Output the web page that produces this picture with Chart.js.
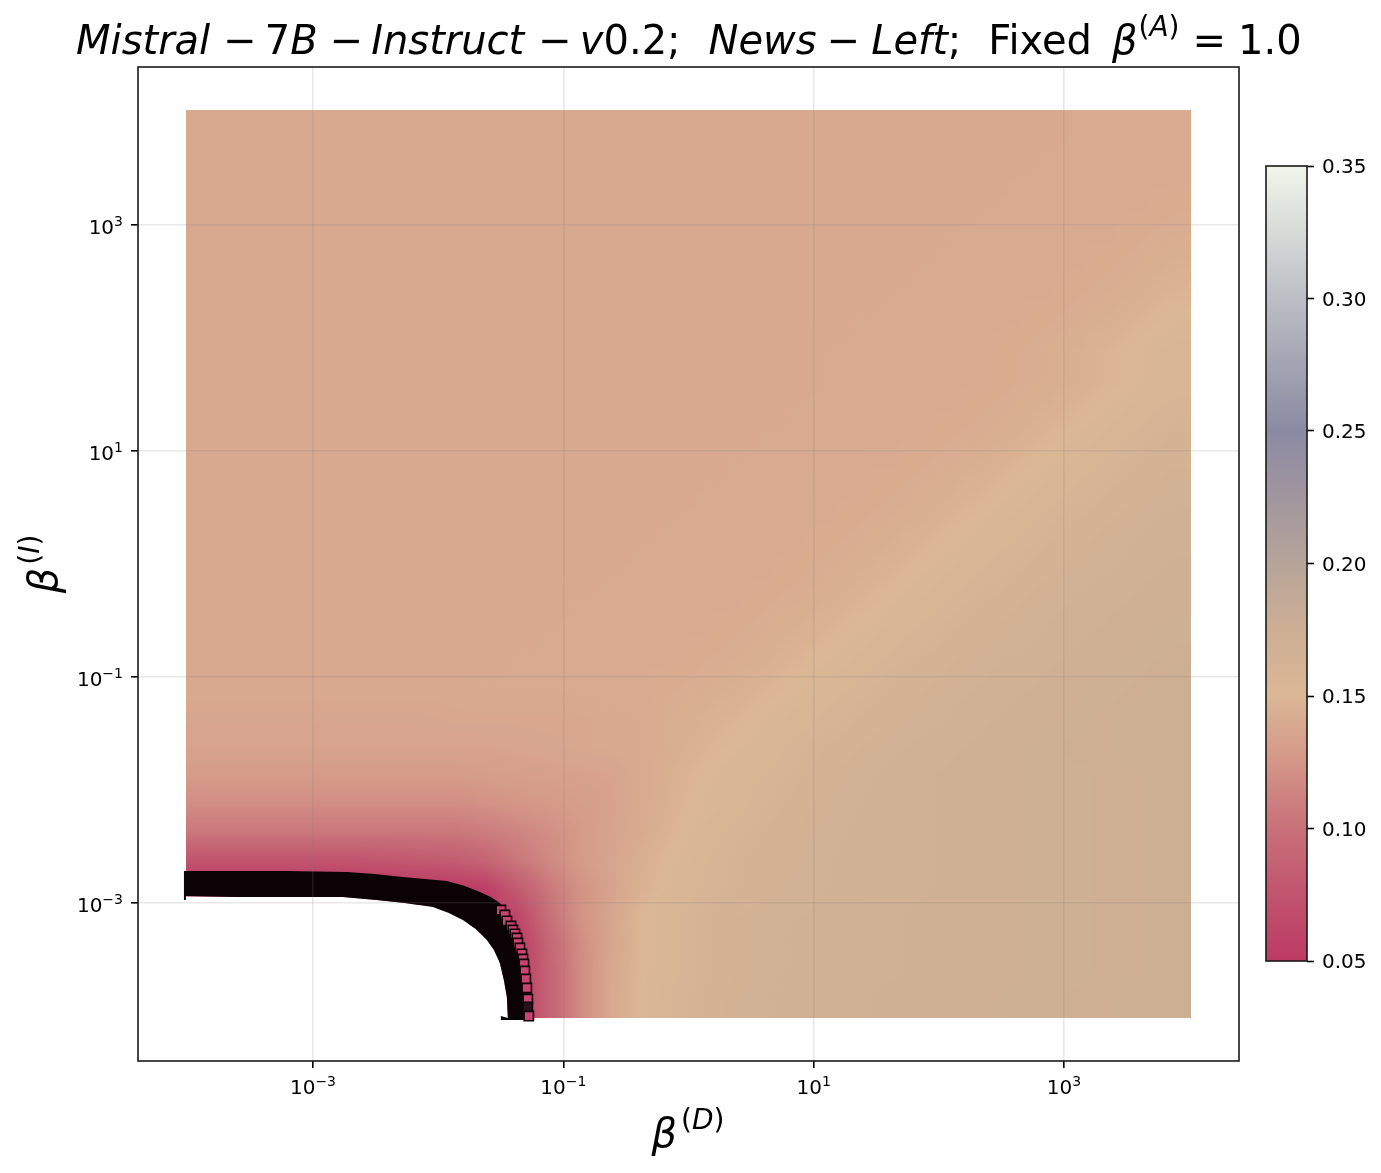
<!DOCTYPE html>
<html>
<head>
<meta charset="utf-8">
<title>Mistral-7B-Instruct-v0.2 heatmap</title>
<script src="https://cdn.jsdelivr.net/npm/chart.js@4/dist/chart.umd.min.js"></script>
<style>
  body { margin: 0; background: #fff; }
  canvas { position: absolute; display: block; }
  #main { left: 0; top: 0; }
  #colorbar { left: 1260px; top: 146px; }
</style>
</head>
<body>
<canvas id="main" width="1381" height="1173"></canvas>
<canvas id="colorbar" width="121" height="835"></canvas>
<script>
// grid exponents (log10), one column per betaD, one row per betaI
const betaDExp = [-3.875,-3.625,-3.375,-3.125,-2.875,-2.625,-2.375,-2.125,-1.875,-1.625,-1.375,-1.125,-0.875,-0.625,-0.375,-0.125,0.125,0.375,0.625,0.875,1.125,1.375,1.625,1.875,2.125,2.375,2.625,2.875,3.125,3.375,3.625,3.875];
const betaIExp = [-3.875,-3.625,-3.375,-3.125,-2.875,-2.625,-2.375,-2.125,-1.875,-1.625,-1.375,-1.125,-0.875,-0.625,-0.375,-0.125,0.125,0.375,0.625,0.875,1.125,1.375,1.625,1.875,2.125,2.375,2.625,2.875,3.125,3.375,3.625,3.875];

// values, first row is the lowest betaI. null = no data (white)
const scores = [
  [null,null,null,null,null,null,null,null,null,null,.05,.088,.117,.138,.151,.158,.162,.165,.167,.169,.170,.170,.171,.171,.172,.172,.173,.173,.174,.174,.175,.175],
  [null,null,null,null,null,null,null,null,null,null,.05,.088,.117,.138,.150,.157,.161,.164,.166,.168,.169,.170,.170,.171,.171,.172,.172,.173,.173,.174,.174,.175],
  [null,null,null,null,null,null,null,null,null,null,.05,.090,.118,.136,.149,.157,.161,.164,.166,.168,.169,.170,.170,.171,.171,.172,.172,.173,.173,.174,.174,.175],
  [null,null,null,null,null,null,null,null,null,.05,.06,.098,.122,.136,.150,.157,.161,.164,.166,.167,.168,.169,.170,.171,.171,.172,.172,.173,.173,.174,.174,.175],
  [.05,.05,.05,.05,.05,.05,.05,.05,.05,.055,.080,.105,.122,.135,.146,.153,.158,.161,.164,.166,.167,.168,.169,.170,.171,.172,.172,.173,.173,.174,.174,.175],
  [.075,.075,.075,.075,.075,.075,.077,.080,.083,.090,.104,.116,.128,.136,.144,.151,.157,.161,.163,.165,.167,.168,.169,.170,.171,.172,.172,.173,.173,.174,.174,.175],
  [.105,.105,.105,.105,.105,.105,.105,.105,.105,.108,.113,.120,.128,.135,.141,.148,.155,.159,.162,.164,.166,.168,.169,.170,.171,.172,.172,.173,.173,.174,.174,.175],
  [.119,.119,.119,.119,.119,.119,.119,.119,.119,.122,.125,.128,.131,.134,.140,.146,.152,.156,.160,.163,.165,.167,.169,.170,.171,.172,.172,.173,.173,.174,.174,.175],
  [.129,.129,.129,.129,.129,.129,.129,.129,.129,.131,.132,.133,.134,.135,.140,.145,.150,.155,.158,.161,.164,.166,.168,.170,.171,.172,.172,.173,.173,.174,.174,.175],
  [.135,.135,.135,.135,.135,.135,.135,.135,.135,.135,.136,.137,.138,.139,.140,.143,.147,.151,.155,.159,.162,.164,.166,.168,.170,.171,.172,.173,.174,.174,.175,.175],
  [.137,.137,.137,.137,.137,.137,.137,.137,.138,.138,.138,.138,.138,.139,.140,.143,.145,.148,.152,.156,.159,.162,.164,.166,.168,.170,.171,.172,.173,.174,.175,.175],
  [.139,.139,.139,.139,.139,.139,.139,.139,.139,.140,.140,.140,.140,.141,.141,.142,.143,.145,.148,.152,.156,.159,.162,.164,.166,.168,.170,.171,.172,.173,.174,.175],
  [.139,.139,.139,.139,.139,.139,.139,.139,.139,.139,.140,.140,.140,.140,.141,.141,.142,.143,.145,.148,.152,.156,.159,.162,.164,.166,.168,.170,.171,.172,.173,.174],
  [.139,.139,.139,.139,.139,.139,.139,.139,.139,.139,.139,.140,.140,.140,.140,.141,.141,.142,.143,.145,.148,.152,.156,.159,.162,.164,.166,.168,.170,.171,.172,.173],
  [.139,.139,.139,.139,.139,.139,.139,.139,.139,.139,.139,.139,.140,.140,.140,.140,.141,.141,.142,.143,.145,.148,.152,.156,.159,.162,.164,.166,.168,.170,.171,.172],
  [.139,.139,.139,.139,.139,.139,.139,.139,.139,.139,.139,.139,.139,.140,.140,.140,.140,.141,.141,.142,.143,.145,.148,.152,.156,.159,.162,.164,.166,.168,.170,.171],
  [.139,.139,.139,.139,.139,.139,.139,.139,.139,.139,.139,.139,.139,.139,.140,.140,.140,.140,.141,.141,.142,.143,.145,.148,.152,.156,.159,.162,.164,.166,.168,.170],
  [.139,.139,.139,.139,.139,.139,.139,.139,.139,.139,.139,.139,.139,.139,.139,.140,.140,.140,.140,.141,.141,.142,.143,.145,.148,.152,.156,.159,.162,.164,.166,.168],
  [.139,.139,.139,.139,.139,.139,.139,.139,.139,.139,.139,.139,.139,.139,.139,.139,.140,.140,.140,.140,.141,.141,.142,.143,.145,.148,.152,.156,.159,.162,.164,.166],
  [.139,.139,.139,.139,.139,.139,.139,.139,.139,.139,.139,.139,.139,.139,.139,.139,.139,.140,.140,.140,.140,.141,.141,.142,.143,.145,.148,.152,.156,.159,.162,.164],
  [.139,.139,.139,.139,.139,.139,.139,.139,.139,.139,.139,.139,.139,.139,.139,.139,.139,.139,.140,.140,.140,.140,.141,.141,.142,.143,.145,.148,.152,.156,.159,.162],
  [.139,.139,.139,.139,.139,.139,.139,.139,.139,.139,.139,.139,.139,.139,.139,.139,.139,.139,.139,.140,.140,.140,.140,.141,.141,.142,.143,.145,.148,.152,.156,.159],
  [.139,.139,.139,.139,.139,.139,.139,.139,.139,.139,.139,.139,.139,.139,.139,.139,.139,.139,.139,.139,.140,.140,.140,.140,.141,.141,.142,.143,.145,.148,.152,.156],
  [.139,.139,.139,.139,.139,.139,.139,.139,.139,.139,.139,.139,.139,.139,.139,.139,.139,.139,.139,.139,.140,.140,.140,.140,.141,.141,.142,.143,.145,.148,.152,.156],
  [.139,.139,.139,.139,.139,.139,.139,.139,.139,.139,.139,.139,.139,.139,.139,.139,.139,.139,.139,.139,.139,.140,.140,.140,.140,.141,.141,.142,.143,.145,.148,.152],
  [.139,.139,.139,.139,.139,.139,.139,.139,.139,.139,.139,.139,.139,.139,.139,.139,.139,.139,.139,.139,.139,.139,.140,.140,.140,.140,.141,.141,.142,.143,.145,.148],
  [.139,.139,.139,.139,.139,.139,.139,.139,.139,.139,.139,.139,.139,.139,.139,.139,.139,.139,.139,.139,.139,.139,.139,.140,.140,.140,.140,.141,.141,.142,.143,.145],
  [.139,.139,.139,.139,.139,.139,.139,.139,.139,.139,.139,.139,.139,.139,.139,.139,.139,.139,.139,.139,.139,.139,.139,.139,.140,.140,.140,.140,.141,.141,.142,.143],
  [.139,.139,.139,.139,.139,.139,.139,.139,.139,.139,.139,.139,.139,.139,.139,.139,.139,.139,.139,.139,.139,.139,.139,.139,.139,.140,.140,.140,.140,.141,.141,.142],
  [.139,.139,.139,.139,.139,.139,.139,.139,.139,.139,.139,.139,.139,.139,.139,.139,.139,.139,.139,.139,.139,.139,.139,.139,.139,.139,.140,.140,.140,.140,.141,.141],
  [.139,.139,.139,.139,.139,.139,.139,.139,.139,.139,.139,.139,.139,.139,.139,.139,.139,.139,.139,.139,.139,.139,.139,.139,.139,.139,.139,.140,.140,.140,.140,.141],
  [.139,.139,.139,.139,.139,.139,.139,.139,.139,.139,.139,.139,.139,.139,.139,.139,.139,.139,.139,.139,.139,.139,.139,.139,.139,.139,.139,.139,.140,.140,.140,.140]
];

// black edged markers that form the thick band (outline, exponents)
const bandD = [-4.031,-3.208,-2.729,-2.506,-2.282,-2.106,-1.931,-1.787,-1.667,-1.579,-1.507,-1.427,-1.371,-1.331,-1.308,-1.284,-1.268,-1.252,-1.244,-1.499,-1.499,-1.443,-1.451,-1.475,-1.507,-1.555,-1.611,-1.699,-1.803,-1.915,-2.042,-2.266,-2.490,-2.761,-3.608,-4.015,-4.015,-4.031];
const bandI = [-2.717,-2.717,-2.726,-2.743,-2.770,-2.788,-2.805,-2.850,-2.903,-2.947,-3.000,-3.115,-3.239,-3.372,-3.504,-3.655,-3.796,-3.929,-4.035,-4.035,-4.000,-4.018,-3.832,-3.681,-3.531,-3.416,-3.327,-3.230,-3.150,-3.088,-3.035,-3.000,-2.973,-2.947,-2.947,-2.938,-2.973,-2.973];

// nothing was measured under the band
const emptyD = [-1.443,-1.451,-1.475,-1.507,-1.555,-1.611,-1.699,-1.803,-1.915,-2.042,-2.266,-2.490,-2.761,-3.608,-4.398,-4.398,-1.443];
const emptyI = [-4.018,-3.832,-3.681,-3.531,-3.416,-3.327,-3.230,-3.150,-3.088,-3.035,-3.000,-2.973,-2.947,-2.947,-2.938,-4.398,-4.398];

// single markers still visible on the outer side of the band
const edgeD = [-1.499,-1.467,-1.451,-1.419,-1.403,-1.387,-1.371,-1.363,-1.347,-1.331,-1.323,-1.315,-1.308,-1.300,-1.292,-1.284,-1.284,-1.276];
const edgeI = [-3.062,-3.106,-3.159,-3.204,-3.239,-3.274,-3.310,-3.354,-3.398,-3.451,-3.496,-3.540,-3.602,-3.673,-3.752,-3.850,-3.920,-4.000];
const edgeDark = [0,0,0,0,0,0,0,0,0,0,0,0,0,0,0,0,1,0];

const tickExps = [-3, -1, 1, 3];
const tickPowers = ['−3', '−1', '1', '3'];
const axisLimit = 4.398;

// colormap
const cmapValues = [.05,.075,.10,.125,.15,.175,.20,.225,.25,.275,.30,.325,.35];
const cmapColors = [[188,58,100],[193,84,110],[200,112,121],[212,150,135],[219,183,149],[205,175,148],[182,164,153],[161,150,158],[139,138,163],[163,164,179],[188,190,197],[215,218,215],[241,245,235]];
const cbarTicks = [.05,.10,.15,.20,.25,.30,.35];

const FONT = '"DejaVu Sans"';
const INK = '#1a1a1a';

function cmapRgb(v) {
  const n = cmapValues.length;
  if (v <= cmapValues[0]) return cmapColors[0];
  if (v >= cmapValues[n - 1]) return cmapColors[n - 1];
  let k = 0;
  while (v > cmapValues[k + 1]) k++;
  const t = (v - cmapValues[k]) / (cmapValues[k + 1] - cmapValues[k]);
  return cmapColors[k].map((c, m) => c + (cmapColors[k + 1][m] - c) * t);
}

function scoreAt(i, j) {
  const v = scores[j][i];
  return v === null ? 0.05 : v;
}

// one canvas tile per cell, shaded toward its neighbours like a smoothed imshow
const tiles = {};
function cellTile(c) {
  if (!c.raw || !c.chart.chartArea) return 'rect';
  const key = c.raw.i + '_' + c.raw.j;
  if (tiles[key]) return tiles[key];
  const sx = c.chart.scales.x, sy = c.chart.scales.y;
  const cellW = sx.getPixelForValue(10 ** betaDExp[1]) - sx.getPixelForValue(10 ** betaDExp[0]);
  const cellH = sy.getPixelForValue(10 ** betaIExp[0]) - sy.getPixelForValue(10 ** betaIExp[1]);
  if (!isFinite(cellW) || !isFinite(cellH) || cellW <= 0 || cellH <= 0) return 'rect';
  const w = Math.ceil(cellW) + 3, h = Math.ceil(cellH) + 3;
  const tile = document.createElement('canvas');
  tile.width = w;
  tile.height = h;
  const tctx = tile.getContext('2d');
  const img = tctx.createImageData(w, h);
  const last = betaDExp.length - 1;
  for (let py = 0; py < h; py++) {
    for (let px = 0; px < w; px++) {
      const u = Math.min(last, Math.max(0, c.raw.i + (px + 0.5 - w / 2) / cellW));
      const v = Math.min(last, Math.max(0, c.raw.j - (py + 0.5 - h / 2) / cellH));
      const i0 = Math.min(last - 1, Math.floor(u)), j0 = Math.min(last - 1, Math.floor(v));
      const fu = u - i0, fv = v - j0;
      const val = (scoreAt(i0, j0) * (1 - fu) + scoreAt(i0 + 1, j0) * fu) * (1 - fv)
                + (scoreAt(i0, j0 + 1) * (1 - fu) + scoreAt(i0 + 1, j0 + 1) * fu) * fv;
      const rgb = cmapRgb(val);
      const o = (py * w + px) * 4;
      img.data[o] = rgb[0];
      img.data[o + 1] = rgb[1];
      img.data[o + 2] = rgb[2];
      img.data[o + 3] = 255;
    }
  }
  tctx.putImageData(img, 0, 0);
  tiles[key] = tile;
  return tile;
}

const heatPoints = [];
scores.forEach((row, j) => row.forEach((v, i) => {
  if (v !== null) heatPoints.push({ x: 10 ** betaDExp[i], y: 10 ** betaIExp[j], v, i, j });
}));
const toPoints = (xs, ys) => xs.map((x, k) => ({ x: 10 ** x, y: 10 ** ys[k] }));
const edgePoints = edgeD.map((x, k) => ({ x: 10 ** x, y: 10 ** edgeI[k], dark: edgeDark[k] }));

// mixed italic/roman text with superscripts, matplotlib mathtext style
function runsWidth(ctx, runs, size) {
  return runs.reduce((w, r) => {
    ctx.font = (r.i ? 'italic ' : '') + size * (r.s || 1) + 'px ' + FONT;
    return w + ctx.measureText(r.t).width + (r.g || 0);
  }, 0);
}
function drawRuns(ctx, runs, x, y, size) {
  ctx.textBaseline = 'alphabetic';
  ctx.textAlign = 'left';
  ctx.fillStyle = '#000';
  runs.forEach(r => {
    ctx.font = (r.i ? 'italic ' : '') + size * (r.s || 1) + 'px ' + FONT;
    ctx.fillText(r.t, x, y - (r.up || 0));
    x += ctx.measureText(r.t).width + (r.g || 0);
  });
}

const titleRuns = [
  { t: 'Mistral', i: 1, g: 13 }, { t: '−', g: 8 }, { t: '7' }, { t: 'B', i: 1, g: 12 }, { t: '−', g: 8 },
  { t: 'Instruct', i: 1, g: 14 }, { t: '−', g: 8 }, { t: 'v', i: 1 }, { t: '0.2;', g: 28 },
  { t: 'News', i: 1, g: 10 }, { t: '−', g: 11 }, { t: 'Left', i: 1 }, { t: ';', g: 27 },
  { t: 'Fixed', g: 20 }, { t: 'β', i: 1, g: 1 },
  { t: '(', s: 0.7, up: 18 }, { t: 'A', i: 1, s: 0.7, up: 18 }, { t: ')', s: 0.7, up: 18, g: 13 },
  { t: '=', g: 12 }, { t: '1.0' }
];
const xLabelRuns = [{ t: 'β', i: 1, g: 4 }, { t: '(', s: 0.7, up: 18 }, { t: 'D', i: 1, s: 0.7, up: 18 }, { t: ')', s: 0.7, up: 18 }];
const yLabelRuns = [{ t: 'β', i: 1, g: 3 }, { t: '(', s: 0.7, up: 18 }, { t: 'I', i: 1, s: 0.7, up: 18 }, { t: ')', s: 0.7, up: 18 }];

const framePlugin = {
  id: 'frame',
  afterDraw(chart) {
    const a = chart.chartArea, ctx = chart.ctx;
    ctx.save();
    ctx.strokeStyle = INK;
    ctx.lineWidth = 1.6;
    ctx.strokeRect(a.left, a.top, a.right - a.left, a.bottom - a.top);
    ctx.restore();
  }
};

const labelsPlugin = {
  id: 'mathLabels',
  afterDraw(chart) {
    const ctx = chart.ctx;
    const sx = chart.scales.x, sy = chart.scales.y;
    ctx.save();
    drawRuns(ctx, titleRuns, 76, 54, 40);
    drawRuns(ctx, xLabelRuns, 688 - runsWidth(ctx, xLabelRuns, 40) / 2, 1147, 40);
    // tick labels, 10 with a real sized exponent
    tickExps.forEach((e, k) => {
      const runs = [{ t: '10' }, { t: tickPowers[k], s: 0.7, up: 8 }];
      const w = runsWidth(ctx, runs, 20);
      drawRuns(ctx, runs, sx.getPixelForValue(10 ** e) - w / 2, 1094, 20);
      drawRuns(ctx, runs, 123 - w, sy.getPixelForValue(10 ** e) + 9, 20);
    });
    ctx.translate(57, 564);
    ctx.rotate(-Math.PI / 2);
    drawRuns(ctx, yLabelRuns, -runsWidth(ctx, yLabelRuns, 40) / 2, 0, 40);
    ctx.restore();
  }
};

const cbarLabelsPlugin = {
  id: 'cbarLabels',
  afterDraw(chart) {
    const ctx = chart.ctx, y = chart.scales.y;
    ctx.save();
    cbarTicks.forEach(v => drawRuns(ctx, [{ t: v.toFixed(2) }], 62, y.getPixelForValue(v) + 7, 20));
    ctx.restore();
  }
};

function logAxis(fit) {
  return {
    type: 'logarithmic',
    min: 10 ** -axisLimit,
    max: 10 ** axisLimit,
    afterBuildTicks(scale) { scale.ticks = tickExps.map(e => ({ value: 10 ** e, major: true })); },
    afterFit: fit,
    border: { display: false },
    grid: { z: 1, color: 'rgba(128,128,128,0.18)', lineWidth: 1.6, tickColor: '#000', tickWidth: 1.6, tickLength: 7 },
    ticks: { display: false }
  };
}

new Chart(document.getElementById('main'), {
  type: 'scatter',
  data: {
    datasets: [
      { // lowest scores, drawn last
        data: edgePoints, order: 1, pointStyle: 'rect', pointRadius: 6.6, pointBorderWidth: 1.6,
        pointBorderColor: '#120308',
        pointBackgroundColor: c => (c.raw && c.raw.dark ? '#2a0f1c' : '#c8456f')
      },
      { data: toPoints(bandD, bandI), order: 2, showLine: true, fill: 'shape', borderWidth: 0, pointRadius: 0, backgroundColor: '#0b0206' },
      { data: toPoints(emptyD, emptyI), order: 3, showLine: true, fill: 'shape', borderWidth: 0, pointRadius: 0, backgroundColor: '#ffffff' },
      { data: heatPoints, order: 4, pointStyle: cellTile, pointRadius: 1, pointBorderWidth: 0 }
    ]
  },
  options: {
    responsive: false,
    animation: false,
    events: [],
    layout: { padding: { top: 67, right: 142, left: 0, bottom: 0 } },
    plugins: { legend: { display: false }, tooltip: { enabled: false } },
    scales: {
      x: logAxis(scale => { scale.height = 112; }),
      y: logAxis(scale => { scale.width = 138; })
    }
  },
  plugins: [framePlugin, labelsPlugin]
});

// colorbar: one floating bar with the colormap as gradient
new Chart(document.getElementById('colorbar'), {
  type: 'bar',
  data: {
    labels: ['score'],
    datasets: [{
      data: [[cmapValues[0], cmapValues[cmapValues.length - 1]]],
      barPercentage: 1,
      categoryPercentage: 1,
      backgroundColor: c => {
        const y = c.chart.scales.y;
        if (!y || !c.chart.chartArea) return '#ccc';
        const lo = cmapValues[0], hi = cmapValues[cmapValues.length - 1];
        const g = c.chart.ctx.createLinearGradient(0, y.getPixelForValue(lo), 0, y.getPixelForValue(hi));
        cmapValues.forEach((v, k) => g.addColorStop((v - lo) / (hi - lo), 'rgb(' + cmapColors[k].join(',') + ')'));
        return g;
      }
    }]
  },
  options: {
    responsive: false,
    animation: false,
    events: [],
    layout: { padding: { top: 20, left: 6, right: 0, bottom: 20 } },
    plugins: { legend: { display: false }, tooltip: { enabled: false } },
    scales: {
      x: { display: false },
      y: {
        position: 'right',
        min: cbarTicks[0],
        max: cbarTicks[cbarTicks.length - 1],
        afterBuildTicks(scale) { scale.ticks = cbarTicks.map(v => ({ value: v })); },
        afterFit(scale) { scale.width = 74; },
        border: { display: false },
        grid: { drawOnChartArea: false, tickColor: '#000', tickWidth: 1.6, tickLength: 7 },
        ticks: { display: false }
      }
    }
  },
  plugins: [framePlugin, cbarLabelsPlugin]
});
</script>
</body>
</html>
